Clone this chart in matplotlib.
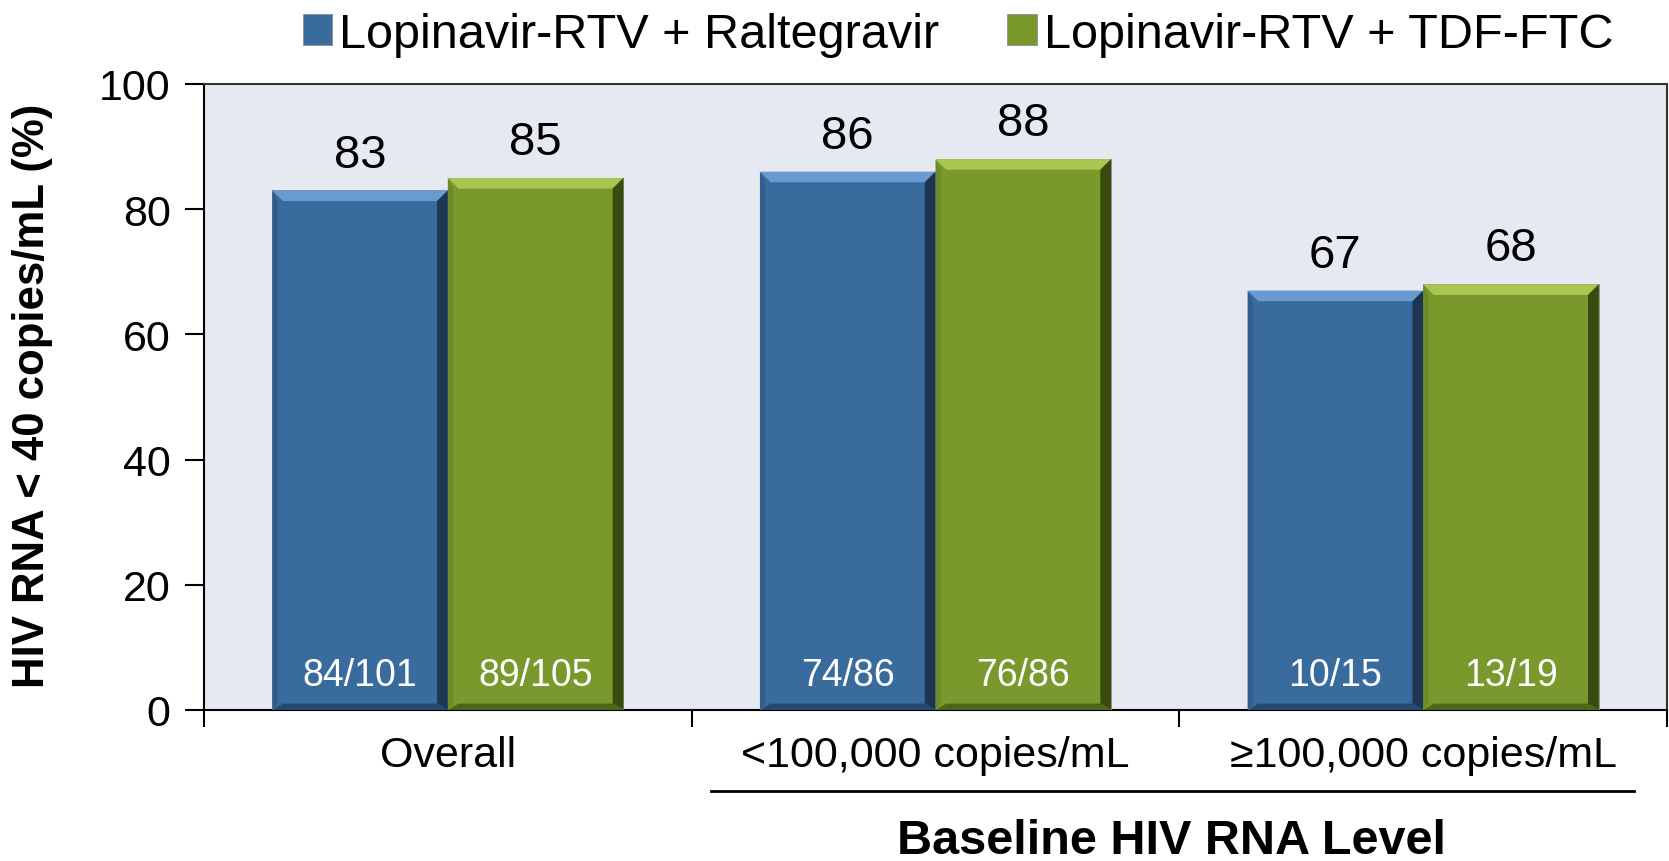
import numpy as np
import matplotlib.pyplot as plt
from matplotlib.patches import Polygon

plt.rcParams['font.family'] = ['Liberation Sans', 'DejaVu Sans']

CATEGORIES = ["Overall", "<100,000 copies/mL", "\u2265100,000 copies/mL"]
SERIES = ["Lopinavir-RTV + Raltegravir", "Lopinavir-RTV + TDF-FTC"]
RAL_VALUES = [83, 86, 67]
TDF_VALUES = [85, 88, 68]
RAL_COUNTS = ["84/101", "74/86", "10/15"]
TDF_COUNTS = ["89/105", "76/86", "13/19"]
Y_TICKS = [0, 20, 40, 60, 80, 100]

COULEURS = ["#3A6B9D", "#7A992D"]
# biseaux : haut, droite, bas, gauche
BISEAUX = [["#6A9BD0", "#1C3654", "#27486F", "#315D8A"],
           ["#A9C653", "#3A4B10", "#4E6619", "#6C8A26"]]

fig = plt.figure(figsize=(16.69, 8.62), dpi=100, facecolor='white')
ax = fig.add_axes([204 / 1669, 1 - 711 / 862, 1463 / 1669, 626 / 862])
ax.set_facecolor("#E6E9F1")

x = np.arange(len(CATEGORIES))
w = 0.36
bx, by = 0.022, 1.7   # épaisseur du biseau en unités de données

barres = []
for i, (vals, counts) in enumerate([(RAL_VALUES, RAL_COUNTS), (TDF_VALUES, TDF_COUNTS)]):
    pos = x + (i - 0.5) * w
    b = ax.bar(pos, vals, w, color=COULEURS[i], edgecolor='#8A8F99', linewidth=0.6,
               label=SERIES[i], zorder=3)
    barres.append(b)
    for r in b:
        x0, x1 = r.get_x(), r.get_x() + r.get_width()
        y0, y1 = 0, r.get_height()
        faces = [
            [(x0, y1), (x1, y1), (x1 - bx, y1 - by), (x0 + bx, y1 - by)],
            [(x1, y1), (x1, y0), (x1 - bx, y0 + by * 0.6), (x1 - bx, y1 - by)],
            [(x0, y0), (x1, y0), (x1 - bx, y0 + by * 0.6), (x0 + bx, y0 + by * 0.6)],
            [(x0, y0), (x0, y1), (x0 + bx * 0.5, y1 - by), (x0 + bx * 0.5, y0 + by * 0.6)],
        ]
        for f, c in zip(faces, BISEAUX[i]):
            ax.add_patch(Polygon(f, closed=True, facecolor=c, edgecolor='none', zorder=3.5))
    for p, v, c in zip(pos, vals, counts):
        ax.annotate(str(v), (p, v), xytext=(0, 10), textcoords='offset points',
                    ha='center', va='bottom', fontsize=34, color='black')
        ax.text(p, 5.6, c, ha='center', va='center', fontsize=27, color='white', zorder=4)

ax.set_xlim(-0.5, 2.5)
ax.set_ylim(0, 100)
ax.set_yticks(Y_TICKS)
ax.set_yticklabels([str(t) for t in Y_TICKS], fontsize=31)
ax.tick_params(axis='y', direction='out', length=14, width=1.5, pad=10)

ax.set_xticks([-0.5, 0.5, 1.5, 2.5])
ax.set_xticklabels([])
ax.tick_params(axis='x', direction='out', length=12, width=1.5)
for xi, cat in zip(x, CATEGORIES):
    ax.text(xi, -7.2, cat, ha='center', va='center', fontsize=31)

for s in ax.spines.values():
    s.set_linewidth(1.5)
    s.set_color('black')
ax.spines['top'].set_color('#333333')
ax.spines['right'].set_color('#333333')

ax.set_ylabel("HIV RNA < 40 copies/mL (%)", fontsize=31.5, fontweight='bold')
ax.yaxis.set_label_coords((53 - 204) / 1463, 0.503)

# trait sous les groupes de charge virale
fig.add_artist(plt.Line2D([711 / 1669, 1634 / 1669], [1 - 792 / 862, 1 - 792 / 862],
                          color='black', linewidth=2))
fig.text(1171 / 1669, 1 - 842 / 862, "Baseline HIV RNA Level", ha='center', va='center',
         fontsize=35, fontweight='bold')

fig.legend(handles=barres, labels=SERIES, loc='center', bbox_to_anchor=(0.574, 0.959),
           ncol=2, frameon=False, fontsize=35, handlelength=0.6, handleheight=0.6,
           handletextpad=0.15, columnspacing=1.4)

plt.savefig("out.png", dpi=100, facecolor='white')
